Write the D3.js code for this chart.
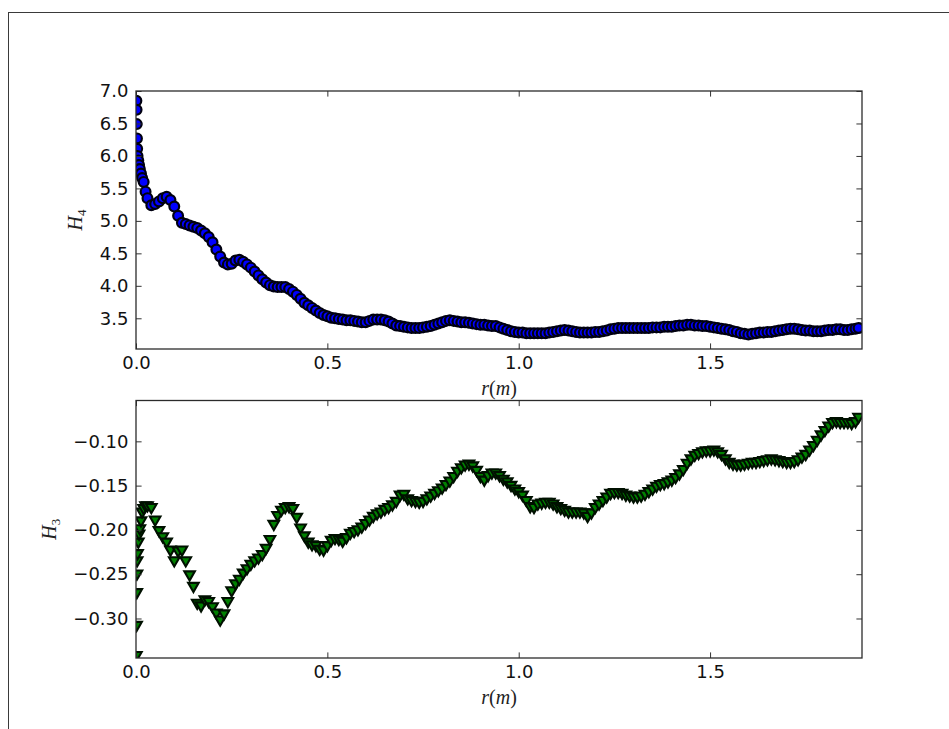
<!DOCTYPE html>
<html>
<head>
<meta charset="utf-8">
<script src="https://cdn.jsdelivr.net/npm/d3@7"></script>
<style>
  html, body { margin: 0; padding: 0; background: #fff; }
  svg { display: block; }
  .tick text { font-family: "DejaVu Sans", sans-serif; font-size: 18px; fill: #111; }
</style>
</head>
<body>
<svg id="chart" width="949" height="729"></svg>
<script>
// ---------------- data ----------------
const r = [
  0.001, 0.0015, 0.002, 0.0025, 0.003, 0.004, 0.006, 0.008, 0.010, 0.013, 0.016,
  0.02, 0.025, 0.03,
  0.04, 0.05, 0.06, 0.07, 0.08, 0.09,
  0.10, 0.11, 0.12, 0.13, 0.14, 0.15, 0.16, 0.17, 0.18, 0.19,
  0.20, 0.21, 0.22, 0.23, 0.24, 0.25, 0.26, 0.27, 0.28, 0.29,
  0.30, 0.31, 0.32, 0.33, 0.34, 0.35, 0.36, 0.37, 0.38, 0.39,
  0.40, 0.41, 0.42, 0.43, 0.44, 0.45, 0.46, 0.47, 0.48, 0.49,
  0.50, 0.51, 0.52, 0.53, 0.54, 0.55, 0.56, 0.57, 0.58, 0.59,
  0.60, 0.61, 0.62, 0.63, 0.64, 0.65, 0.66, 0.67, 0.68, 0.69,
  0.70, 0.71, 0.72, 0.73, 0.74, 0.75, 0.76, 0.77, 0.78, 0.79,
  0.80, 0.81, 0.82, 0.83, 0.84, 0.85, 0.86, 0.87, 0.88, 0.89,
  0.90, 0.91, 0.92, 0.93, 0.94, 0.95, 0.96, 0.97, 0.98, 0.99,
  1.00, 1.01, 1.02, 1.03, 1.04, 1.05, 1.06, 1.07, 1.08, 1.09,
  1.10, 1.11, 1.12, 1.13, 1.14, 1.15, 1.16, 1.17, 1.18, 1.19,
  1.20, 1.21, 1.22, 1.23, 1.24, 1.25, 1.26, 1.27, 1.28, 1.29,
  1.30, 1.31, 1.32, 1.33, 1.34, 1.35, 1.36, 1.37, 1.38, 1.39,
  1.40, 1.41, 1.42, 1.43, 1.44, 1.45, 1.46, 1.47, 1.48, 1.49,
  1.50, 1.51, 1.52, 1.53, 1.54, 1.55, 1.56, 1.57, 1.58, 1.59,
  1.60, 1.61, 1.62, 1.63, 1.64, 1.65, 1.66, 1.67, 1.68, 1.69,
  1.70, 1.71, 1.72, 1.73, 1.74, 1.75, 1.76, 1.77, 1.78, 1.79,
  1.80, 1.81, 1.82, 1.83, 1.84, 1.85, 1.86, 1.87, 1.88,
  1.888
];

const h4 = [
  6.85, 6.71, 6.49, 6.27, 6.11, 6.00, 5.93, 5.86, 5.80, 5.73, 5.66,
  5.60, 5.45, 5.35,
  5.24, 5.26, 5.30, 5.35, 5.37, 5.32,
  5.22, 5.08, 4.97, 4.95, 4.93, 4.91, 4.89, 4.85, 4.81, 4.75,
  4.67, 4.56, 4.45, 4.36, 4.33, 4.34, 4.39, 4.40, 4.37, 4.33,
  4.28, 4.22, 4.16, 4.10, 4.05, 4.01, 3.99, 3.98, 3.98, 3.98,
  3.95, 3.91, 3.86, 3.80, 3.74, 3.70, 3.66, 3.62, 3.58, 3.55,
  3.53, 3.51, 3.50, 3.49, 3.48, 3.47, 3.47, 3.46, 3.45, 3.44,
  3.44, 3.46, 3.48, 3.48, 3.48, 3.47, 3.45, 3.42, 3.39, 3.38,
  3.37, 3.36, 3.35, 3.35, 3.35, 3.36, 3.37, 3.38, 3.40, 3.42,
  3.44, 3.46, 3.47, 3.46, 3.45, 3.44, 3.44, 3.43, 3.42, 3.41,
  3.40, 3.40, 3.39, 3.38, 3.38, 3.36, 3.34, 3.32, 3.30, 3.29,
  3.28, 3.28, 3.27, 3.27, 3.27, 3.27, 3.27, 3.27, 3.28, 3.29,
  3.30, 3.31, 3.32, 3.31, 3.30, 3.29, 3.28, 3.28, 3.28, 3.28,
  3.29, 3.29, 3.30, 3.31, 3.33, 3.34, 3.35, 3.35, 3.35, 3.35,
  3.35, 3.35, 3.35, 3.35, 3.35, 3.36, 3.36, 3.36, 3.37, 3.37,
  3.37, 3.38, 3.39, 3.39, 3.40, 3.40, 3.39, 3.39, 3.38, 3.38,
  3.37, 3.36, 3.35, 3.34, 3.33, 3.32, 3.30, 3.29, 3.27, 3.26,
  3.25, 3.26, 3.27, 3.28, 3.28, 3.29, 3.29, 3.30, 3.31, 3.32,
  3.33, 3.34, 3.34, 3.33, 3.32, 3.31, 3.31, 3.30, 3.30, 3.30,
  3.31, 3.32, 3.32, 3.33, 3.33, 3.32, 3.32, 3.33, 3.34,
  3.35
];

const h3 = [
  -0.343, -0.309, -0.272, -0.251, -0.236, -0.228, -0.215, -0.206, -0.200, -0.191, -0.181,
  -0.177, -0.174, -0.174,
  -0.176, -0.190, -0.202, -0.209, -0.215, -0.224,
  -0.236, -0.225, -0.224, -0.236, -0.252, -0.265, -0.284, -0.287, -0.280, -0.282,
  -0.288, -0.295, -0.303, -0.296, -0.282, -0.270, -0.262, -0.257, -0.250, -0.245,
  -0.240, -0.236, -0.233, -0.229, -0.222, -0.212, -0.195, -0.185, -0.179, -0.176,
  -0.175, -0.177, -0.187, -0.199, -0.208, -0.215, -0.218, -0.219, -0.223, -0.224,
  -0.219, -0.213, -0.211, -0.212, -0.214, -0.210, -0.205, -0.203, -0.201, -0.198,
  -0.194, -0.190, -0.186, -0.183, -0.181, -0.178, -0.176, -0.173, -0.169, -0.162,
  -0.161, -0.166, -0.168, -0.169, -0.170, -0.169, -0.166, -0.163, -0.160, -0.157,
  -0.154, -0.150, -0.146, -0.141, -0.135, -0.131, -0.128, -0.127, -0.129, -0.134,
  -0.141, -0.145, -0.140, -0.137, -0.137, -0.140, -0.144, -0.147, -0.151, -0.155,
  -0.158, -0.162, -0.168, -0.175, -0.176, -0.172, -0.171, -0.170, -0.170, -0.172,
  -0.175, -0.177, -0.179, -0.181, -0.181, -0.181, -0.181, -0.182, -0.186, -0.182,
  -0.176, -0.172, -0.168, -0.164, -0.160, -0.159, -0.159, -0.160, -0.162, -0.163,
  -0.164, -0.164, -0.163, -0.161, -0.158, -0.155, -0.152, -0.150, -0.149, -0.147,
  -0.145, -0.142, -0.138, -0.133, -0.126, -0.121, -0.117, -0.115, -0.113, -0.112,
  -0.112, -0.111, -0.113, -0.116, -0.121, -0.125, -0.127, -0.128, -0.128, -0.127,
  -0.126, -0.125, -0.125, -0.124, -0.123, -0.122, -0.121, -0.122, -0.123, -0.124,
  -0.125, -0.125, -0.124, -0.122, -0.119, -0.116, -0.111, -0.106, -0.100, -0.094,
  -0.089, -0.084, -0.080, -0.079, -0.080, -0.080, -0.080, -0.081, -0.079,
  -0.074
];

const xTicks  = [0.0, 0.5, 1.0, 1.5];
const h4Ticks = [3.5, 4.0, 4.5, 5.0, 5.5, 6.0, 6.5, 7.0];
const h3Ticks = [-0.30, -0.25, -0.20, -0.15, -0.10];

const xDomain  = [0, 1.897];
const h4Domain = [3.027, 7.0];
const h3Domain = [-0.3446, -0.0539];

// ---------------- layout ----------------
const svg = d3.select("#chart");
const L = 136, R = 862;
const panels = [
  { key: "top", top: 91, bottom: 349, values: h4, domain: h4Domain, ticks: h4Ticks, fmt: d3.format(".1f"),
    fill: "#0000ff", shape: "circle", ylab: "H", sub: "4", labX: 82 },
  { key: "bot", top: 400.5, bottom: 658, values: h3, domain: h3Domain, ticks: h3Ticks, fmt: d3.format(".2f"),
    fill: "#008000", shape: "tri", ylab: "H", sub: "3", labX: 56 }
];

// outer figure frame
svg.append("rect")
  .attr("x", 8.5).attr("y", 12.5).attr("width", 1200).attr("height", 1000)
  .attr("fill", "none").attr("stroke", "#3a3a3a").attr("stroke-width", 1);

const x = d3.scaleLinear().domain(xDomain).range([L, R]);
const tickLen = 5.6;

panels.forEach(p => {
  const y = d3.scaleLinear().domain(p.domain).range([p.bottom, p.top]);
  const g = svg.append("g");

  const clipId = "clip-" + p.key;
  svg.append("clipPath").attr("id", clipId)
    .append("rect").attr("x", L).attr("y", p.top).attr("width", R - L).attr("height", p.bottom - p.top);

  // markers
  const pts = g.append("g").attr("clip-path", `url(#${clipId})`);
  const data = r.map((rv, i) => ({ r: rv, v: p.values[i] }));
  if (p.shape === "circle") {
    pts.selectAll("circle").data(data).join("circle")
      .attr("cx", d => x(d.r)).attr("cy", d => y(d.v))
      .attr("r", 4.9)
      .attr("fill", p.fill).attr("stroke", "#000010").attr("stroke-width", 2.2);
  } else {
    const w = 5.3, h = 4.6;
    pts.selectAll("path").data(data).join("path")
      .attr("transform", d => `translate(${x(d.r)},${y(d.v)})`)
      .attr("d", `M0,${h}L${-w},${-h}L${w},${-h}Z`)
      .attr("fill", p.fill).attr("stroke", "#001000").attr("stroke-width", 2.1)
      .attr("stroke-linejoin", "miter");
  }

  // axes (ticks inside, on all four sides)
  const ax = (gen, tx, ty, fmt) => {
    const a = svg.append("g").attr("transform", `translate(${tx},${ty})`).call(gen);
    a.select(".domain").remove();
    a.selectAll(".tick line").attr("stroke", "#333").attr("stroke-width", 1);
    if (!fmt) a.selectAll(".tick text").remove();
    return a;
  };
  ax(d3.axisBottom(x).tickValues(xTicks).tickFormat(d3.format(".1f"))
       .tickSizeInner(-tickLen).tickSizeOuter(0).tickPadding(7), 0, p.bottom, true);
  ax(d3.axisTop(x).tickValues(xTicks).tickSizeInner(-tickLen).tickSizeOuter(0), 0, p.top, false);
  ax(d3.axisLeft(y).tickValues(p.ticks).tickFormat(p.fmt)
       .tickSizeInner(-tickLen).tickSizeOuter(0).tickPadding(7.5), L, 0, true);
  ax(d3.axisRight(y).tickValues(p.ticks).tickSizeInner(-tickLen).tickSizeOuter(0), R, 0, false);

  // spines
  svg.append("rect")
    .attr("x", L).attr("y", p.top).attr("width", R - L).attr("height", p.bottom - p.top)
    .attr("fill", "none").attr("stroke", "#2b2b2b").attr("stroke-width", 1.3);

  // x label  r(m)
  const xl = svg.append("text")
    .attr("x", (L + R) / 2).attr("y", p.bottom + 46)
    .attr("text-anchor", "middle")
    .attr("font-family", "'Liberation Serif', 'DejaVu Serif', serif")
    .attr("font-size", 20).attr("fill", "#222");
  xl.append("tspan").attr("font-style", "italic").text("r");
  xl.append("tspan").text("(");
  xl.append("tspan").attr("font-style", "italic").text("m");
  xl.append("tspan").text(")");

  // y label  H_n
  const cy = (p.top + p.bottom) / 2;
  const yl = svg.append("text")
    .attr("transform", `translate(${p.labX},${cy}) rotate(-90)`)
    .attr("text-anchor", "middle")
    .attr("font-family", "'Liberation Serif', 'DejaVu Serif', serif")
    .attr("font-size", 20).attr("fill", "#222");
  yl.append("tspan").attr("font-style", "italic").text(p.ylab);
  yl.append("tspan").attr("font-size", 13).attr("dy", 4).text(p.sub);
});
</script>
</body>
</html>
